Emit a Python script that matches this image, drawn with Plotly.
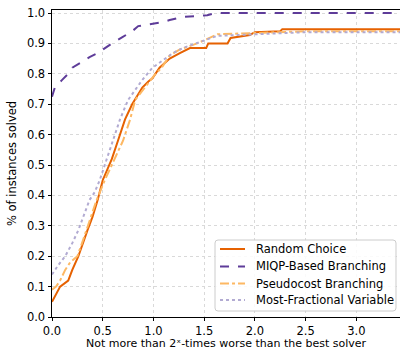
import plotly.graph_objects as go

# Data (performance profile)
random_x = [0, 0.03, 0.08, 0.16, 0.2, 0.26, 0.3, 0.35, 0.4, 0.45, 0.5, 0.59, 0.65, 0.72, 0.79, 0.84, 0.89, 0.95, 0.99, 1.06, 1.16, 1.26, 1.36, 1.52, 1.54, 1.73, 1.76, 1.95, 2.0, 2.25, 2.27, 3.43]
random_y = [0.05, 0.07, 0.10, 0.12, 0.155, 0.2, 0.24, 0.286, 0.33, 0.385, 0.45, 0.52, 0.58, 0.65, 0.70, 0.73, 0.755, 0.775, 0.785, 0.82, 0.85, 0.868, 0.885, 0.885, 0.90, 0.90, 0.918, 0.928, 0.937, 0.94, 0.947, 0.947]

miqp_x = [0, 0.03, 0.1, 0.16, 0.2, 0.3, 0.37, 0.45, 0.52, 0.59, 0.69, 0.79, 0.85, 0.99, 1.09, 1.16, 1.29, 1.53, 1.62, 3.43]
miqp_y = [0.725, 0.757, 0.78, 0.80, 0.82, 0.84, 0.855, 0.868, 0.885, 0.90, 0.92, 0.94, 0.957, 0.964, 0.97, 0.977, 0.987, 0.993, 1.0, 1.0]

pseudo_x = [0, 0.04, 0.08, 0.13, 0.18, 0.25, 0.3, 0.33, 0.39, 0.44, 0.52, 0.62, 0.7, 0.77, 0.82, 0.92, 1.01, 1.08, 1.16, 1.26, 1.43, 1.63, 2.5, 3.43]
pseudo_y = [0.09, 0.10, 0.12, 0.155, 0.18, 0.2, 0.247, 0.276, 0.33, 0.385, 0.45, 0.52, 0.58, 0.65, 0.714, 0.757, 0.796, 0.82, 0.86, 0.88, 0.90, 0.93, 0.94, 0.94]

frac_x = [0, 0.06, 0.13, 0.2, 0.26, 0.33, 0.37, 0.42, 0.47, 0.54, 0.6, 0.67, 0.75, 0.82, 0.89, 0.99, 1.09, 1.19, 1.29, 1.46, 1.63, 2.5, 3.43]
frac_y = [0.14, 0.17, 0.2, 0.243, 0.286, 0.35, 0.385, 0.41, 0.45, 0.52, 0.58, 0.65, 0.714, 0.745, 0.78, 0.82, 0.845, 0.868, 0.885, 0.905, 0.925, 0.937, 0.937]

series_names = ["Random Choice", "MIQP-Based Branching", "Pseudocost Branching", "Most-Fractional Variable"]
series_colors = ["#e66101", "#5e3c99", "#fdb863", "#b2abd2"]
series_dashes = ["solid", "dash", "dashdot", "dot"]

x_ticks = [0.0, 0.5, 1.0, 1.5, 2.0, 2.5, 3.0]
y_ticks = [0.0, 0.1, 0.2, 0.3, 0.4, 0.5, 0.6, 0.7, 0.8, 0.9, 1.0]

fig = go.Figure()
for xs, ys, nm, col, ds in zip([random_x, miqp_x, pseudo_x, frac_x],
                               [random_y, miqp_y, pseudo_y, frac_y],
                               series_names, series_colors, series_dashes):
    fig.add_trace(go.Scatter(x=xs, y=ys, mode="lines", name=nm,
                             line=dict(color=col, width=2, dash=ds)))

font = dict(family="DejaVu Sans", size=11.5, color="#000000")
title_font = dict(family="DejaVu Sans", size=11, color="#000000")

# Custom legend (matplotlib-like compact spacing), in paper coordinates
x0, x1, y0, y1 = 0.4684, 0.9885, 0.0195, 0.2508
rx, ry = 3 / 348, 3 / 307
path = (f"M {x0+rx},{y0} L {x1-rx},{y0} Q {x1},{y0} {x1},{y0+ry} "
        f"L {x1},{y1-ry} Q {x1},{y1} {x1-rx},{y1} L {x0+rx},{y1} Q {x0},{y1} {x0},{y1-ry} "
        f"L {x0},{y0+ry} Q {x0},{y0} {x0+rx},{y0} Z")
shapes = [dict(type="path", path=path, xref="paper", yref="paper",
               fillcolor="rgba(255,255,255,0.85)", line=dict(color="#cccccc", width=1), layer="above")]
annotations = []
row_y = [0.2215, 0.1645, 0.1091, 0.0554]
for ry_, nm, col, ds in zip(row_y, series_names, series_colors, series_dashes):
    shapes.append(dict(type="line", xref="paper", yref="paper", x0=0.4828, x1=0.5546,
                       y0=ry_, y1=ry_, line=dict(color=col, width=2, dash=ds), layer="above"))
    annotations.append(dict(text=nm, xref="paper", yref="paper", x=0.5805, y=ry_,
                            xanchor="left", yanchor="middle", showarrow=False, font=font))

# x-axis title placed as annotation just below the tick labels
annotations.append(dict(text="Not more than 2ˣ-times worse than the best solver",
                        xref="paper", yref="paper", x=0.5, y=-0.0865, borderpad=0,
                        xanchor="center", yanchor="middle", showarrow=False, font=title_font))

fig.update_layout(
    width=400, height=350,
    margin=dict(l=52, r=0, t=10, b=33),
    paper_bgcolor="white", plot_bgcolor="white",
    font=font,
    showlegend=False,
    shapes=shapes, annotations=annotations,
    xaxis=dict(range=[0, 3.43], tickvals=x_ticks, ticktext=[f"{v:.1f}" for v in x_ticks],
               showgrid=True, gridcolor="#d9d9d9", griddash="dot", gridwidth=1,
               showline=True, linecolor="#000000", linewidth=1, mirror=True,
               ticks="outside", ticklen=3, tickcolor="#000000", zeroline=False,
               tickfont=font),
    yaxis=dict(range=[0, 1.01], tickvals=y_ticks, ticktext=[f"{v:.1f}" for v in y_ticks],
               showgrid=True, gridcolor="#d9d9d9", griddash="dot", gridwidth=1,
               showline=True, linecolor="#000000", linewidth=1,
               ticks="outside", ticklen=3.5, tickcolor="#000000", zeroline=False,
               tickfont=font,
               title=dict(text="% of instances solved", font=font, standoff=7)),
)

fig.write_html("out.html", config={"displayModeBar": False},
               post_script="document.body.style.margin='0';document.body.style.overflow='hidden';")
